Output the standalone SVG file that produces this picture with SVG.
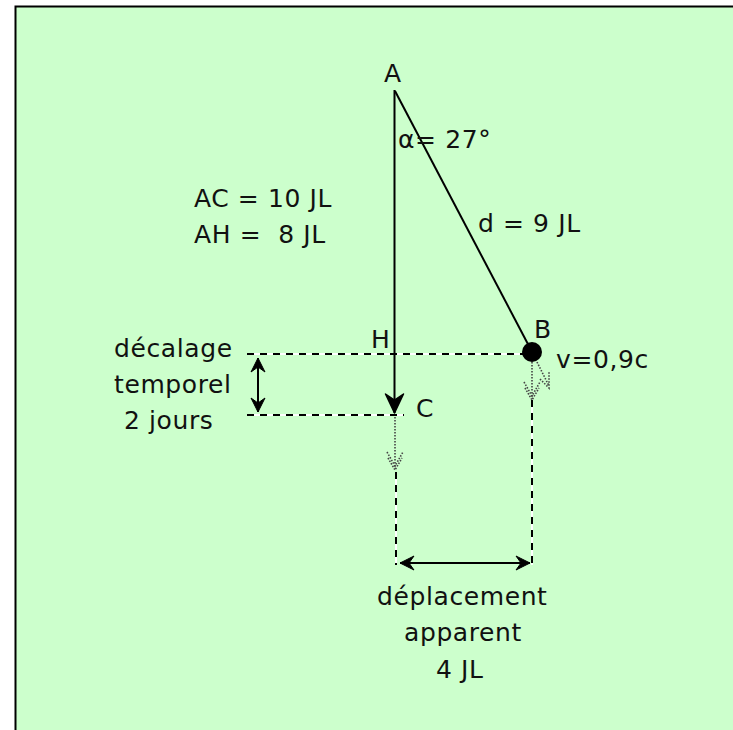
<svg xmlns="http://www.w3.org/2000/svg" width="733" height="730" viewBox="0 0 733 730">
<style>
  .t { font-family: "DejaVu Sans", "Liberation Sans", sans-serif; font-size: 25px; letter-spacing: 0.6px; fill: #111; white-space: pre; }
  .solid { stroke: #000; stroke-width: 2; fill: none; }
  .dashbg { stroke: #fff; stroke-width: 2; fill: none; }
  .dash { stroke: #000; stroke-width: 2; fill: none; stroke-dasharray: 7 6; }
  .dot { stroke: #444; stroke-width: 1.6; fill: none; stroke-dasharray: 1.5 1.5; }
</style>
<defs>
  <marker id="bigArrow" markerUnits="userSpaceOnUse" orient="auto" refX="0" refY="0" markerWidth="40" markerHeight="40" viewBox="-20 -20 40 40" overflow="visible">
    <path d="M0 0 L-19 -9 L-13 0 L-19 9 Z" fill="#000" stroke="#000" stroke-width="1.5" stroke-linejoin="round"/>
  </marker>
  <marker id="smallArrow" markerUnits="userSpaceOnUse" orient="auto-start-reverse" refX="0" refY="0" markerWidth="30" markerHeight="30" viewBox="-15 -15 30 30" overflow="visible">
    <path d="M0 0 L-14 -7 L-9 0 L-14 7 Z" fill="#000" stroke="#000" stroke-width="1"/>
  </marker>
</defs>

<rect x="0" y="0" width="733" height="730" fill="#fff"/>
<rect x="16" y="7" width="717" height="723" fill="#CCFFCC"/>
<path d="M15.5 730 V6.5 H733" stroke="#000" stroke-width="2" fill="none"/>

<g id="connectors">
  <path class="dashbg" d="M247 354 H525 M247 415 H404 M396 472 V565 M532 400 V565"/>
  <path class="dash" d="M247 354 H525 M247 415 H404 M396 472 V565 M532 400 V565"/>
  <line class="solid" x1="394.5" y1="90" x2="394.5" y2="413" marker-end="url(#bigArrow)"/>
  <line class="solid" x1="395" y1="91" x2="530" y2="348"/>
  <line class="solid" x1="258" y1="358" x2="258" y2="412" marker-start="url(#smallArrow)" marker-end="url(#smallArrow)"/>
  <line class="solid" x1="400" y1="563" x2="530" y2="563" marker-start="url(#smallArrow)" marker-end="url(#smallArrow)"/>
  <path class="dot" d="M395 417 V468"/>
  <path class="dot" d="M387 452 L395 466 L403 452 M388 458 L395 470 L402 458"/>
  <path class="dot" d="M532 362 V398"/>
  <path class="dot" d="M524 382 L532 396 L540 382 M525 388 L532 400 L539 388"/>
  <path class="dot" d="M537 362 L549 386"/>
  <path class="dot" d="M540 379 L549 388 L549 372"/>
</g>

<g id="node-A">
  <text class="t" x="384" y="82">A</text>
</g>
<g id="node-B">
  <circle cx="532" cy="352" r="10" fill="#000"/>
  <text class="t" x="534" y="338">B</text>
</g>
<g id="node-C">
  <text class="t" x="416" y="417">C</text>
</g>
<g id="node-H">
  <text class="t" x="371" y="348">H</text>
</g>
<g id="label-alpha">
  <text class="t" x="398" y="148">α= 27°</text>
</g>
<g id="label-d">
  <text class="t" x="478" y="232">d = 9 JL</text>
</g>
<g id="label-lengths">
  <text class="t" x="194" y="207">AC = 10 JL</text>
  <text class="t" x="194" y="243">AH =  8 JL</text>
</g>
<g id="label-v">
  <text class="t" x="556" y="368">v=0,9c</text>
</g>
<g id="label-decalage">
  <text class="t" x="114" y="357">décalage</text>
  <text class="t" x="114" y="393">temporel</text>
  <text class="t" x="124" y="429">2 jours</text>
</g>
<g id="label-deplacement">
  <text class="t" x="377" y="605">déplacement</text>
  <text class="t" x="404" y="641">apparent</text>
  <text class="t" x="436" y="678">4 JL</text>
</g>
</svg>
